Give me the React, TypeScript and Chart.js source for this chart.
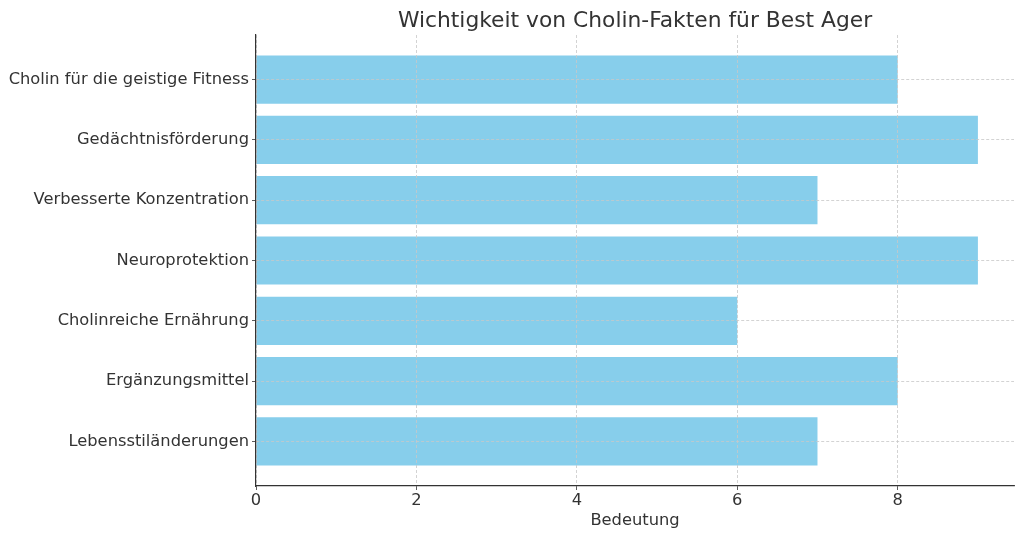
import React, { useEffect, useRef } from "react";
import { Chart, registerables } from "chart.js";

Chart.register(...registerables);

const categories = [
  "Cholin für die geistige Fitness",
  "Gedächtnisförderung",
  "Verbesserte Konzentration",
  "Neuroprotektion",
  "Cholinreiche Ernährung",
  "Ergänzungsmittel",
  "Lebensstiländerungen",
];
const values = [8, 9, 7, 9, 6, 8, 7];
const xTicks = [0, 2, 4, 6, 8];
const titleText = "Wichtigkeit von Cholin-Fakten für Best Ager";
const xLabel = "Bedeutung";

const FONT = "'DejaVu Sans', sans-serif";
const TEXT = "#333333";
const GRID = "#c8c8c8";
const FS = 16.3;

const titlePlugin = {
  id: "customTitle",
  afterDraw(chart: any) {
    const { ctx, chartArea } = chart;
    ctx.save();
    ctx.font = `21.8px ${FONT}`;
    ctx.fillStyle = TEXT;
    ctx.textAlign = "center";
    ctx.textBaseline = "alphabetic";
    ctx.fillText(titleText, (chartArea.left + chartArea.right) / 2, 27);
    ctx.restore();
  },
};

export default function App() {
  const ref = useRef<HTMLCanvasElement | null>(null);
  useEffect(() => {
    if (!ref.current) return;
    const gridOpts = {
      z: 1,
      offset: false,
      color: GRID,
      tickBorderDash: [],
      tickColor: TEXT,
      tickLength: 4,
      lineWidth: 0.8,
    };
    const borderOpts = { z: 1, color: TEXT, width: 1.2, dash: [3, 2] };
    const chart = new Chart(ref.current, {
      type: "bar",
      data: {
        datasets: [
          {
            data: values.map((v, i) => ({ x: v, y: i })),
            backgroundColor: "#87CEEB",
            borderWidth: 0,
            barPercentage: 0.8,
            categoryPercentage: 1,
          },
        ],
      },
      options: {
        indexAxis: "y",
        animation: false,
        responsive: false,
        layout: { padding: { top: 35, right: 10, left: 0, bottom: 0 } },
        plugins: { legend: { display: false }, tooltip: { enabled: false } },
        scales: {
          x: {
            type: "linear",
            offset: false,
            min: 0,
            max: 9.45,
            afterBuildTicks: (s: any) => {
              s.ticks = xTicks.map((v) => ({ value: v }));
            },
            afterFit: (s: any) => {
              s.height = 53;
            },
            grid: gridOpts,
            border: borderOpts,
            ticks: { color: TEXT, font: { family: FONT, size: FS }, padding: 1 },
            title: {
              display: true,
              text: xLabel,
              color: TEXT,
              font: { family: FONT, size: FS },
              padding: { top: 0, bottom: 8 },
            },
          },
          y: {
            type: "linear",
            offset: false,
            reverse: true,
            min: -0.74,
            max: 6.74,
            afterBuildTicks: (s: any) => {
              s.ticks = categories.map((_, i) => ({ value: i }));
            },
            afterFit: (s: any) => {
              s.width = 256;
            },
            grid: gridOpts,
            border: borderOpts,
            ticks: {
              color: TEXT,
              font: { family: FONT, size: FS },
              padding: 3,
              callback: (v: any) => categories[v as number] ?? "",
            },
          },
        },
      },
      plugins: [titlePlugin],
    });
    return () => chart.destroy();
  }, []);
  return (
    <div style={{ position: "fixed", left: 0, top: 0, width: 1024, height: 539, background: "#fff" }}>
      <canvas ref={ref} width={1024} height={539} style={{ width: 1024, height: 539 }} />
    </div>
  );
}
